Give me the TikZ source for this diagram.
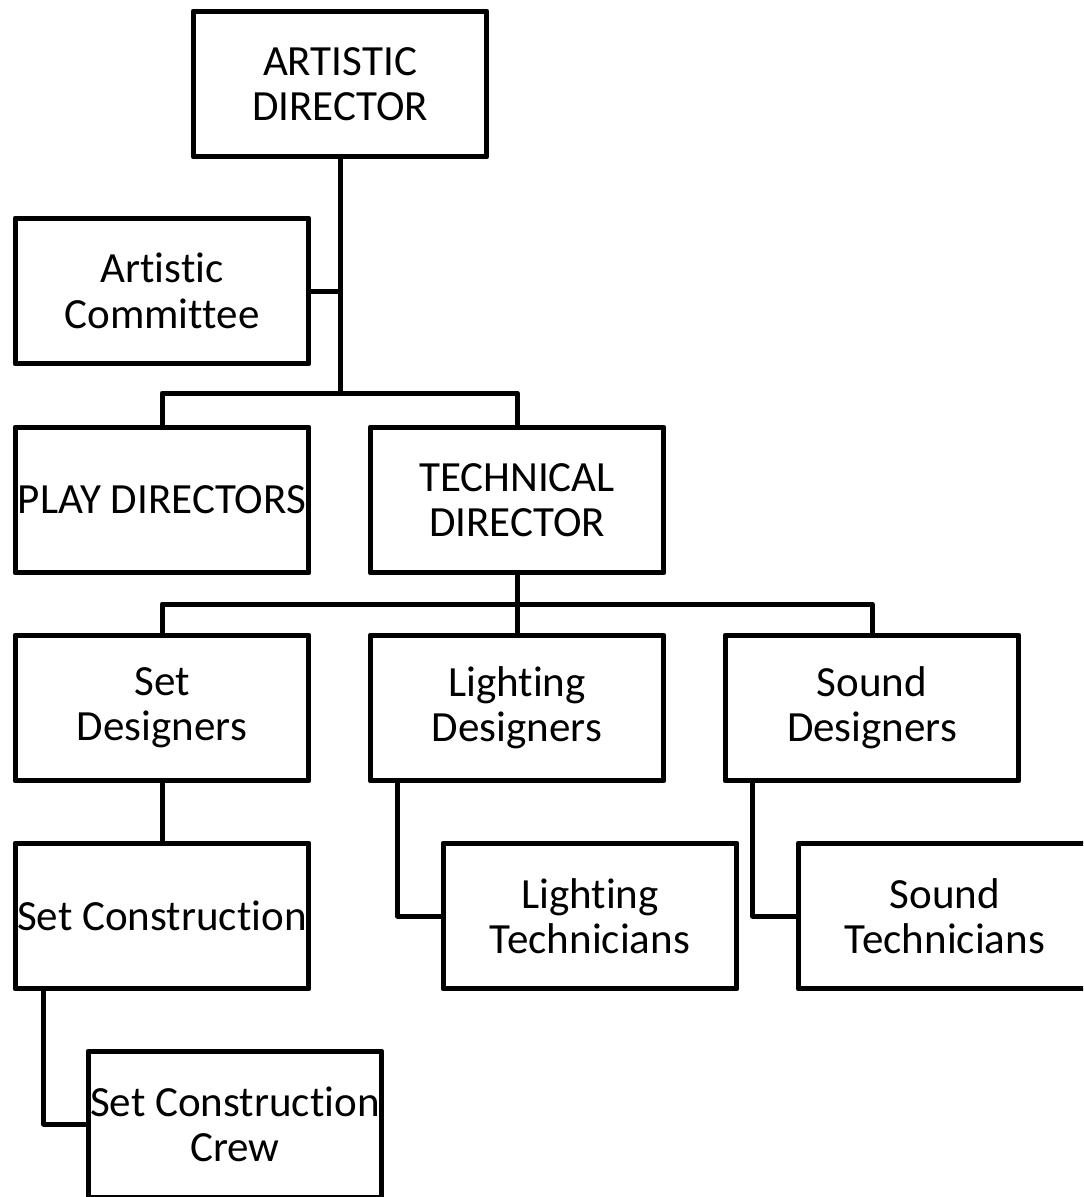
\documentclass[tikz,border=0pt]{standalone}
\usepackage{fontspec}
\setmainfont{Carlito}[RawFeature=-liga]
\usetikzlibrary{positioning}

\begin{document}
\begin{tikzpicture}[
    x=0.02cm, y=-0.02cm,
    line width=0.1cm, line join=round,
    every node/.style={font=\fontsize{24.5}{25.8}\selectfont, align=center},
    box/.style={draw, minimum width=5.88cm, minimum height=2.92cm, inner sep=0pt},
]
\useasboundingbox (0,0) rectangle (1083,1197);
\clip (0,0) rectangle (1083,1197);
\node[box] (ad)   at (340,84)   {ARTISTIC\\DIRECTOR};
\node[box] (com)  at (162,291)  {Artistic\\Committee};
\node[box] (play) at (162,500)  {PLAY DIRECTORS};
\node[box] (tech) at (517,500)  {TECHNICAL\\DIRECTOR};
\node[box] (setd) at (162,708)  {Set\\Designers};
\node[box] (ligd) at (517,708)  {Lighting\\Designers};
\node[box] (sndd) at (872,708)  {Sound\\Designers};
\node[box] (setc) at (162,916)  {Set Construction};
\node[box] (ligt) at (590,916)  {Lighting\\Technicians};
\node[box] (sndt) at (945,916)  {Sound\\Technicians};
\node[box] (crew) at (235,1124) {Set Construction\\Crew};
\coordinate (j1) at (340,393);
\coordinate (j2) at (517,604);
\draw (ad) -- (j1);
\draw (com.east) -- (com.east -| j1);
\draw (play.north) |- (j1) -| (tech.north);
\draw (tech) -- (j2);
\draw (setd.north) |- (j2) -| (sndd.north);
\draw (j2) -- (ligd);
\draw (setd) -- (setc);
\draw ([xshift=0.6cm]ligd.south west) |- (ligt.west);
\draw ([xshift=0.6cm]sndd.south west) |- (sndt.west);
\draw ([xshift=0.62cm]setc.south west) |- (crew.west);
\end{tikzpicture}
\end{document}
